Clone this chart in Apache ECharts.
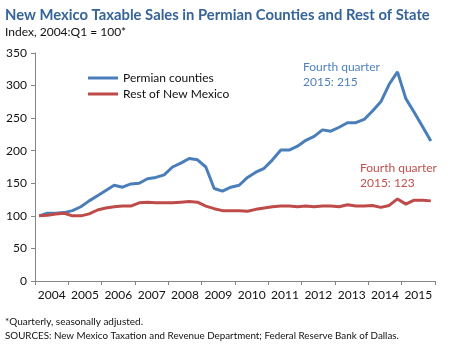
<!DOCTYPE html>
<html>
<head>
<meta charset="utf-8">
<script src="https://cdn.jsdelivr.net/npm/echarts@6/dist/echarts.min.js"></script>
<style>
html,body{margin:0;padding:0;background:#fff;}
#c{width:464px;height:346px;}
</style>
</head>
<body>
<div id="c"></div>
<script>
var years = ['2004','2005','2006','2007','2008','2009','2010','2011','2012','2013','2014','2015'];
var quarters = [];
years.forEach(function(y){ for (var q = 1; q <= 4; q++) quarters.push(y + ':Q' + q); });
var yTicks = [0, 50, 100, 150, 200, 250, 300, 350];
var permian = [100,104,104,105,108,114,123,131,139,147,144,149,150,157,159,163,175,181,188,186,175,142,138,144,147,159,167,173,186,201,201,207,216,222,232,230,236,243,243,248,261,275,302,321,280,259,237,215];
var restNM = [100,101,103,104,100,100,103,109,112,114,115,115,120,121,120,120,120,121,122,121,115,111,108,108,108,107,110,112,114,115,115,114,115,114,115,115,114,117,115,115,116,113,116,126,118,124,124,123];

var chart = echarts.init(document.getElementById('c'), null, {renderer: 'canvas'});
var FONT = 'Lato';
chart.setOption({
  animation: false,
  backgroundColor: '#fff',
  title: [
    {text: 'New Mexico Taxable Sales in Permian Counties and Rest of State', left: 0, top: 3,
     textStyle: {fontFamily: FONT, fontWeight: 'bold', fontSize: 14.8, color: '#35649a'}},
    {text: 'Index, 2004:Q1 = 100*', left: 0, top: 21,
     textStyle: {fontFamily: FONT, fontWeight: 'normal', fontSize: 12, color: '#111'}},
    {text: '*Quarterly, seasonally adjusted.', left: 0, top: 312,
     textStyle: {fontFamily: FONT, fontWeight: 'normal', fontSize: 10, color: '#111'}},
    {text: 'SOURCES: New Mexico Taxation and Revenue Department; Federal Reserve Bank of Dallas.', left: 0, top: 326,
     textStyle: {fontFamily: FONT, fontWeight: 'normal', fontSize: 9.8, color: '#111'}}
  ],
  legend: {
    orient: 'vertical', left: 83, top: 67, itemWidth: 30, itemHeight: 3, itemGap: 4,
    icon: 'rect',
    textStyle: {fontFamily: FONT, fontSize: 12, color: '#111'},
    data: ['Permian counties', 'Rest of New Mexico']
  },
  grid: {left: 35, right: 29, top: 53, bottom: 65, containLabel: false},
  xAxis: [
    {type: 'category', data: years, boundaryGap: true, position: 'bottom',
     axisLine: {lineStyle: {color: '#868686', width: 1}},
     axisTick: {show: true, length: 4, interval: 0, lineStyle: {color: '#868686'}},
     axisLabel: {fontFamily: FONT, fontSize: 12, color: '#111', margin: 8, interval: 0}},
    {type: 'category', data: quarters, boundaryGap: true, show: false}
  ],
  yAxis: {
    type: 'value', min: yTicks[0], max: yTicks[yTicks.length-1], interval: 50,
    splitLine: {show: false},
    axisLine: {show: true, lineStyle: {color: '#868686', width: 1}},
    axisTick: {show: true, length: 4, lineStyle: {color: '#868686'}},
    axisLabel: {fontFamily: FONT, fontSize: 12, color: '#111', margin: 8}
  },
  series: [
    {name: 'Permian counties', type: 'line', xAxisIndex: 1, data: permian, symbol: 'none',
     lineStyle: {color: '#4a7ebb', width: 3}, itemStyle: {color: '#4a7ebb'}},
    {name: 'Rest of New Mexico', type: 'line', xAxisIndex: 1, data: restNM, symbol: 'none',
     lineStyle: {color: '#be4b48', width: 3}, itemStyle: {color: '#be4b48'}}
  ],
  graphic: [
    {type: 'text', left: 303, top: 60, style: {text: 'Fourth quarter\n2015: 215', font: '12px Lato', fill: '#4f81bd', lineHeight: 15}},
    {type: 'text', left: 360, top: 161, style: {text: 'Fourth quarter\n2015: 123', font: '12px Lato', fill: '#c0504d', lineHeight: 15}}
  ]
});
</script>
</body>
</html>
